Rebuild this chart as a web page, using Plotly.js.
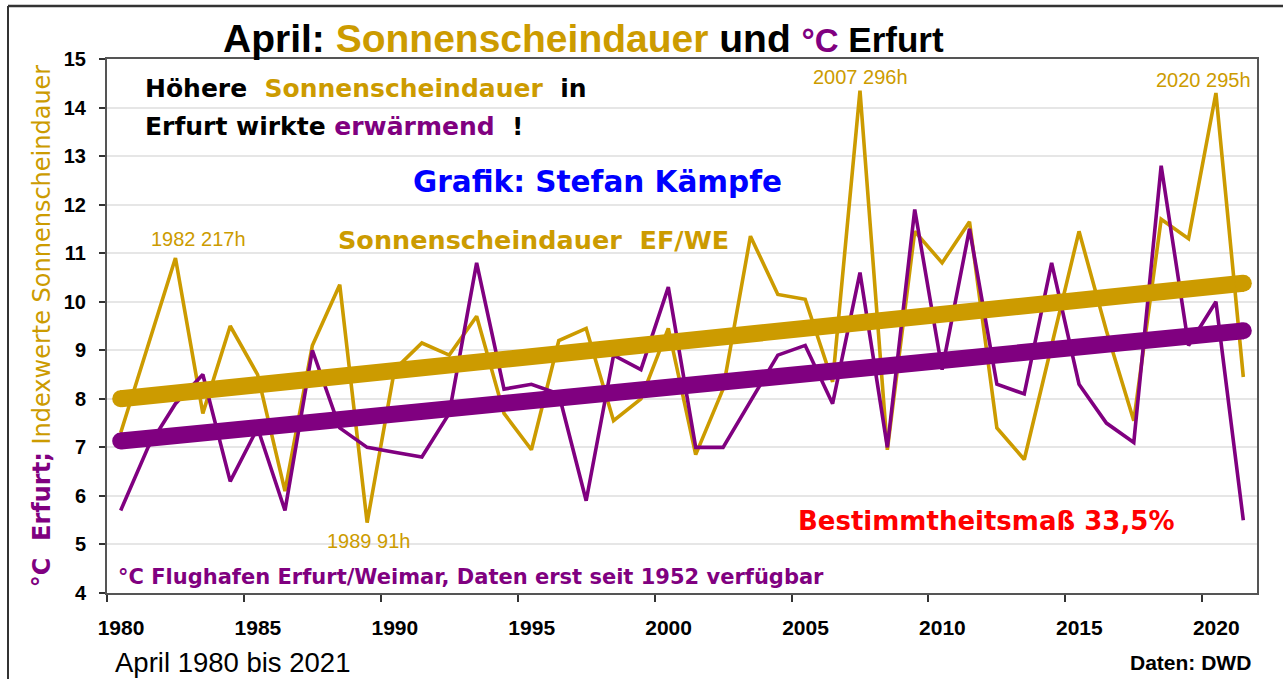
<!DOCTYPE html>
<html><head><meta charset="utf-8">
<script src="https://cdn.plot.ly/plotly-3.0.1.min.js"></script>
<style>html,body{margin:0;padding:0;background:#fff;overflow:hidden}#chart{width:1283px;height:679px}</style>
</head><body><div id="chart"></div>
<script>
// ---- data ----
const years = [1980,1981,1982,1983,1984,1985,1986,1987,1988,1989,1990,1991,1992,1993,1994,1995,1996,1997,1998,1999,2000,2001,2002,2003,2004,2005,2006,2007,2008,2009,2010,2011,2012,2013,2014,2015,2016,2017,2018,2019,2020,2021];
const tempC = [5.7,7.0,7.9,8.5,6.3,7.4,5.7,9.0,7.4,7.0,6.9,6.8,7.7,10.8,8.2,8.3,8.1,5.9,8.9,8.6,10.3,7.0,7.0,7.95,8.9,9.1,7.9,10.6,7.0,11.9,8.6,11.5,8.3,8.1,10.8,8.3,7.5,7.1,12.8,9.1,10.0,5.5];
const sunIndex = [7.3,9.1,10.9,7.7,9.5,8.5,6.1,9.1,10.35,5.45,8.6,9.15,8.9,9.7,7.7,6.95,9.2,9.45,7.55,8.0,9.45,6.85,8.2,11.35,10.15,10.05,8.35,14.35,6.95,11.45,10.8,11.65,7.4,6.75,9.1,11.45,9.4,7.55,11.7,11.3,14.3,8.45];
const trendYears = [1980, 2021];
const tempTrend = [7.13, 9.40];
const sunTrend = [8.0, 10.38];
const xTickLabels = [1980,1985,1990,1995,2000,2005,2010,2015,2020];
const yTickValues = [4,5,6,7,8,9,10,11,12,13,14,15];
const peakTexts = ['1982 217h','2007 296h','2020 295h','1989 91h'];

// ---- styling ----
const GOLD = '#CC9B00', PURPLE = '#800080';
const L = 107, R = 1257, T = 59, B = 593;
const px = x => (x - L) / (R - L);
const py = y => (B - y) / (B - T);

const traces = [
  {x: years, y: sunIndex, mode: 'lines', line: {color: GOLD, width: 3.6}, hoverinfo: 'x+y'},
  {x: years, y: tempC, mode: 'lines', line: {color: PURPLE, width: 3.6}, hoverinfo: 'x+y'},
  {x: trendYears, y: sunTrend, mode: 'lines+markers', line: {color: GOLD, width: 17}, marker: {color: GOLD, size: 17}, hoverinfo: 'skip'},
  {x: trendYears, y: tempTrend, mode: 'lines+markers', line: {color: PURPLE, width: 17}, marker: {color: PURPLE, size: 17}, hoverinfo: 'skip'}
];

const BF = 'DejaVu Sans';
function ann(text, xp, yp, size, opts) {
  return Object.assign({text: text, xref: 'paper', yref: 'paper', x: px(xp), y: py(yp),
    xanchor: 'left', yanchor: 'middle', showarrow: false,
    font: {family: BF, size: size, color: '#000'}}, opts || {});
}
function peak(text, xp, yp) {
  return {text: text, xref: 'paper', yref: 'paper', x: px(xp), y: py(yp), xanchor: 'center', yanchor: 'middle',
    showarrow: false, font: {family: 'Liberation Sans', size: 20, color: GOLD}};
}

const annotations = [
  ann('<b>April: <span style="color:' + GOLD + '">Sonnenscheindauer</span> und <span style="color:' + PURPLE + ';font-size:33px">°C</span><span style="font-size:35px"> Erfurt</span></b>', 221, 38, 39, {font: {family: 'Liberation Sans', size: 39, color: '#000'}}),
  ann('<b>Höhere  <span style="color:' + GOLD + '">Sonnenscheindauer</span>  in</b>', 143, 88, 25),
  ann('<b>Erfurt wirkte <span style="color:' + PURPLE + '">erwärmend</span>  !</b>', 143, 127, 25),
  ann('<b>Grafik: Stefan Kämpfe</b>', 411, 182, 29.5, {font: {family: BF, size: 29.5, color: '#0000FF'}}),
  ann('<b>Sonnenscheindauer  EF/WE</b>', 336, 240, 25.5, {font: {family: BF, size: 25.5, color: GOLD}}),
  ann('<b>Bestimmtheitsmaß 33,5%</b>', 796, 521, 26, {font: {family: BF, size: 26, color: '#FF0000'}}),
  ann('<b>°C Flughafen Erfurt/Weimar, Daten erst seit 1952 verfügbar</b>', 116, 577, 21, {font: {family: BF, size: 21, color: PURPLE}}),
  ann('April 1980 bis 2021', 113, 662, 27.5, {font: {family: 'Liberation Sans', size: 27.5, color: '#000'}}),
  ann('<b>Daten: DWD</b>', 1253, 662, 21, {xanchor: 'right', font: {family: 'Liberation Sans', size: 21, color: '#000'}}),
  peak(peakTexts[0], 198, 239),
  peak(peakTexts[1], 860, 77),
  peak(peakTexts[2], 1203, 80),
  peak(peakTexts[3], 368, 541)
];

const layout = {
  width: 1283, height: 679,
  margin: {l: L, r: 1283 - R, t: T, b: 679 - B},
  paper_bgcolor: '#fff', plot_bgcolor: '#fff',
  showlegend: false,
  font: {family: 'Liberation Sans', color: '#000'},
  xaxis: {
    range: [1979.5, 2021.5], tickmode: 'array',
    tickvals: xTickLabels.map(v => v - 0.5), ticktext: xTickLabels.map(String),
    ticklabelshift: 14,
    ticks: 'outside', ticklen: 7, tickwidth: 1.5, tickcolor: '#333',
    tickfont: {family: 'Liberation Sans', size: 21, color: '#000', weight: 'bold'},
    ticklabelstandoff: 8,
    showgrid: false, zeroline: false,
    showline: true, linecolor: '#555', linewidth: 2, mirror: true, fixedrange: true
  },
  yaxis: {
    range: [4, 15], tickmode: 'array', tickvals: yTickValues,
    ticks: 'outside', ticklen: 6, tickwidth: 1.5, tickcolor: '#333',
    tickfont: {family: 'Liberation Sans', size: 20, color: '#000', weight: 'bold'},
    ticklabelstandoff: 9,
    showgrid: true, gridcolor: '#E6E6E6', gridwidth: 1.5, zeroline: false,
    showline: true, linecolor: '#555', linewidth: 2, mirror: true, fixedrange: true,
    title: {text: '<span style="color:' + PURPLE + '"><b>°C  Erfurt;</b></span> <span style="color:' + GOLD + '">Indexwerte Sonnenscheindauer</span>',
      font: {family: 'DejaVu Sans', size: 24}, standoff: 6}
  },
  annotations: annotations,
  shapes: [
    {type: 'line', xref: 'paper', yref: 'paper', x0: px(8), x1: px(1290), y0: py(6), y1: py(6), line: {color: '#333', width: 2.5}},
    {type: 'line', xref: 'paper', yref: 'paper', x0: px(8), x1: px(8), y0: py(6), y1: py(690), line: {color: '#333', width: 2}}
  ]
};

Plotly.newPlot('chart', traces, layout, {displayModeBar: false});
</script></body></html>
